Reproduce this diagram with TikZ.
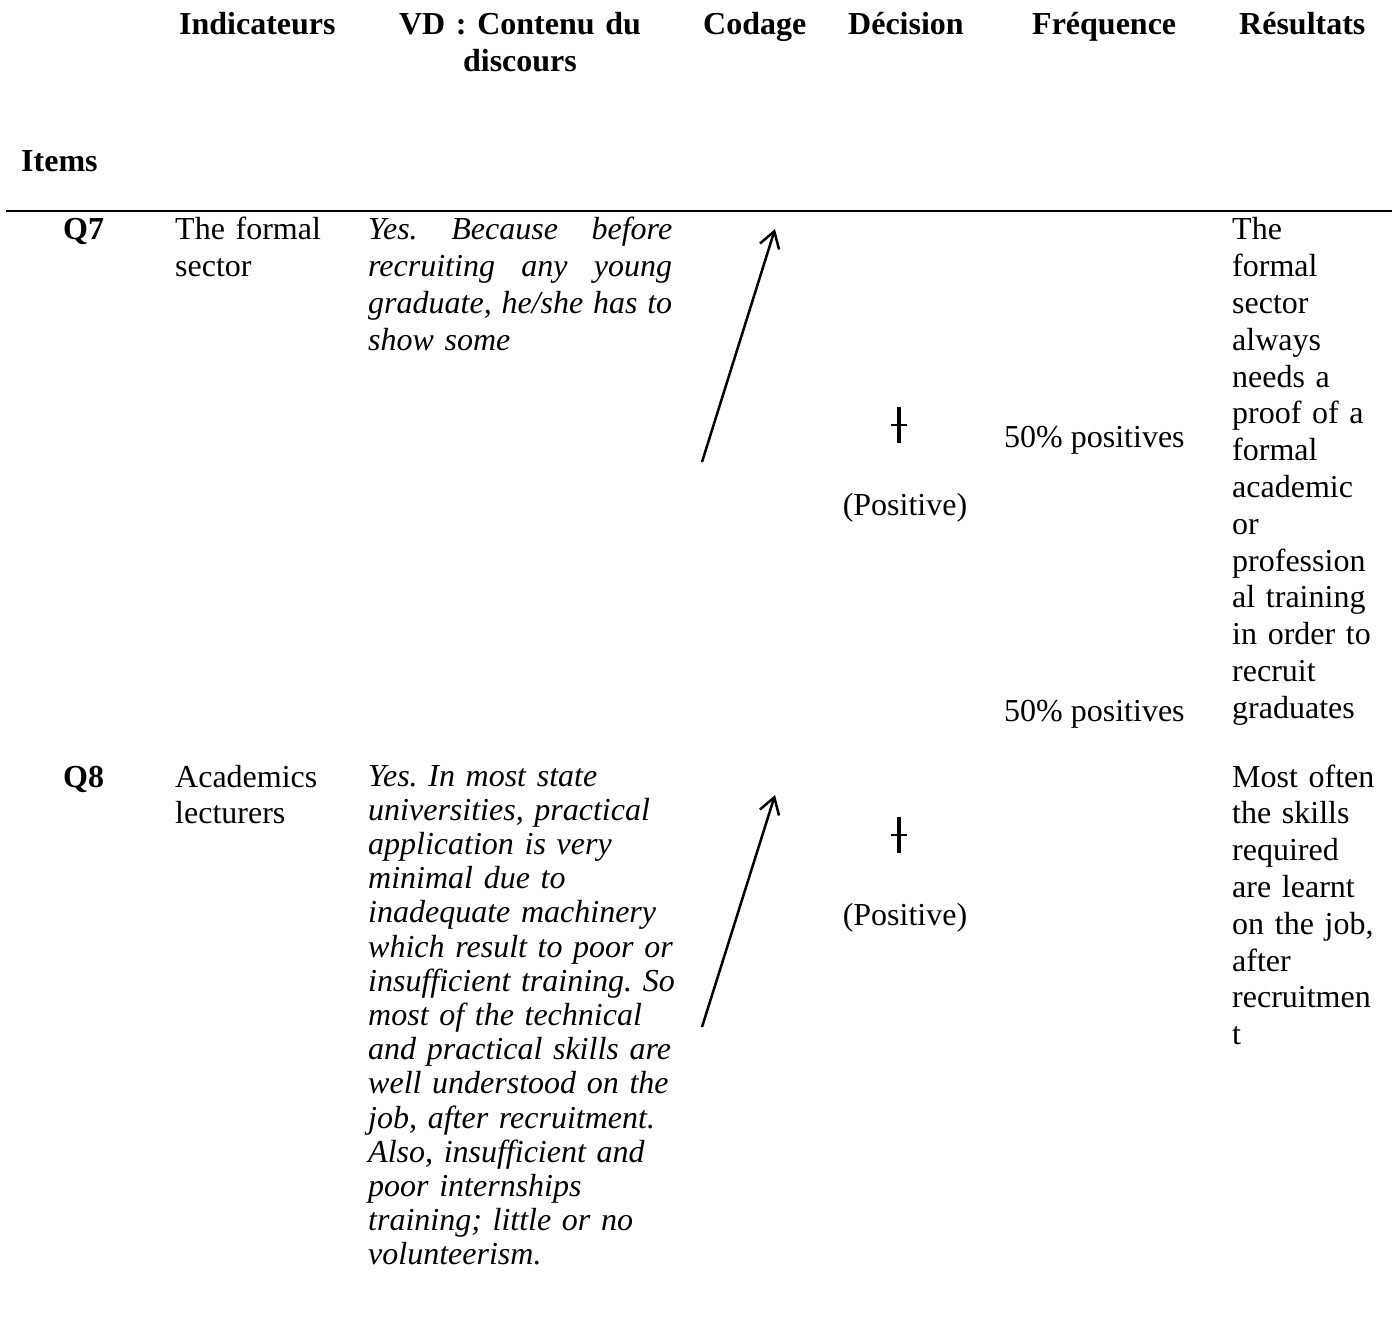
\documentclass[tikz,border=0pt]{standalone}
\usepackage{fontspec}
\setmainfont{Liberation Serif}
\usetikzlibrary{arrows.meta}
\frenchspacing

\begin{document}
\begin{tikzpicture}[x=1pt,y=-1pt,
                    every node/.style = {inner sep=0pt,font=\fontsize{32}{36.8}\selectfont},
                    head/.style = {anchor=base west,font=\fontsize{32}{36.8}\selectfont\bfseries},
                    cell/.style = {anchor=base west,text width=#1,align=left},
                    vd/.style = {cell=330pt,font=\fontsize{32}{36.8}\selectfont\itshape},
                    arrow/.style = {line width=2.5pt,-{Straight Barb[length=16pt,width=20pt]}},
                    codemark/.pic = {\draw[line width=4pt] (0,-18) -- (0,18);
                                     \draw[line width=2.5pt] (-8,0) -- (8,0);}]
    \useasboundingbox (0,0) rectangle (1392,1337);

    \node[head] (indic) at (179,35) {Indicateurs};
    \node[anchor=base,text width=290pt,align=center,font=\fontsize{32}{36.8}\selectfont\bfseries] (vdhead) at (520,35) {VD : Contenu du\\ discours};
    \node[head] (codage) at (703,35) {Codage};
    \node[head] (decision) at (848,35) {Décision};
    \node[head] (freq) at (1032,35) {Fréquence};
    \node[head] (result) at (1239,35) {Résultats};
    \node[head] (items) at (21,172) {Items};

    \draw[line width=2.5pt] (6,211) -- (1392,211);

    \node[head] (q7) at (63,240) {Q7};
    \node[cell=180pt] (ind7) at (175,240) {The formal\\ sector};
    \node[vd] (vd7) at (368,240) {\leavevmode\hbox to 304pt{Yes.\hfill Because\hfill before}\\ \leavevmode\hbox to 304pt{recruiting\hfill any\hfill young}\\ \leavevmode\hbox to 304pt{graduate,\hfill he/she\hfill has\hfill to}\\ show some};
    \coordinate (a7) at (702,462);
    \coordinate (b7) at (775,229);
    \draw[arrow] (a7) -- (b7);
    \pic at (899,425) {codemark};
    \node[anchor=base] (dec7) at (905,515) {(Positive)};
    \node[anchor=base west] (freq7a) at (1004,447) {50\% positives};
    \node[anchor=base west] (freq7b) at (1004,721) {50\% positives};
    \node[cell=160pt] (res7) at (1232,240) {The\\ formal\\ sector\\ always\\ needs a\\ proof of a\\ formal\\ academic\\ or\\ profession\\ al training\\ in order to\\ recruit\\ graduates};

    \node[head] (q8) at (63,787) {Q8};
    \node[cell=180pt] (ind8) at (175,787) {Academics\\ lecturers};
    \node[vd,font=\fontsize{32}{34.2}\selectfont\itshape] (vd8) at (368,786) {Yes. In most state\\ universities, practical\\ application is very\\ minimal due to\\ inadequate machinery\\ which result to poor or\\ insufficient training. So\\ most of the technical\\ and practical skills are\\ well understood on the\\ job, after recruitment.\\ Also, insufficient and\\ poor internships\\ training; little or no\\ volunteerism.};
    \coordinate (a8) at (702,1027);
    \coordinate (b8) at (775,795);
    \draw[arrow] (a8) -- (b8);
    \pic at (899,835) {codemark};
    \node[anchor=base] (dec8) at (905,925) {(Positive)};
    \node[cell=160pt] (res8) at (1232,787) {Most often\\ the skills\\ required\\ are learnt\\ on the job,\\ after\\ recruitmen\\ t};
\end{tikzpicture}
\end{document}
